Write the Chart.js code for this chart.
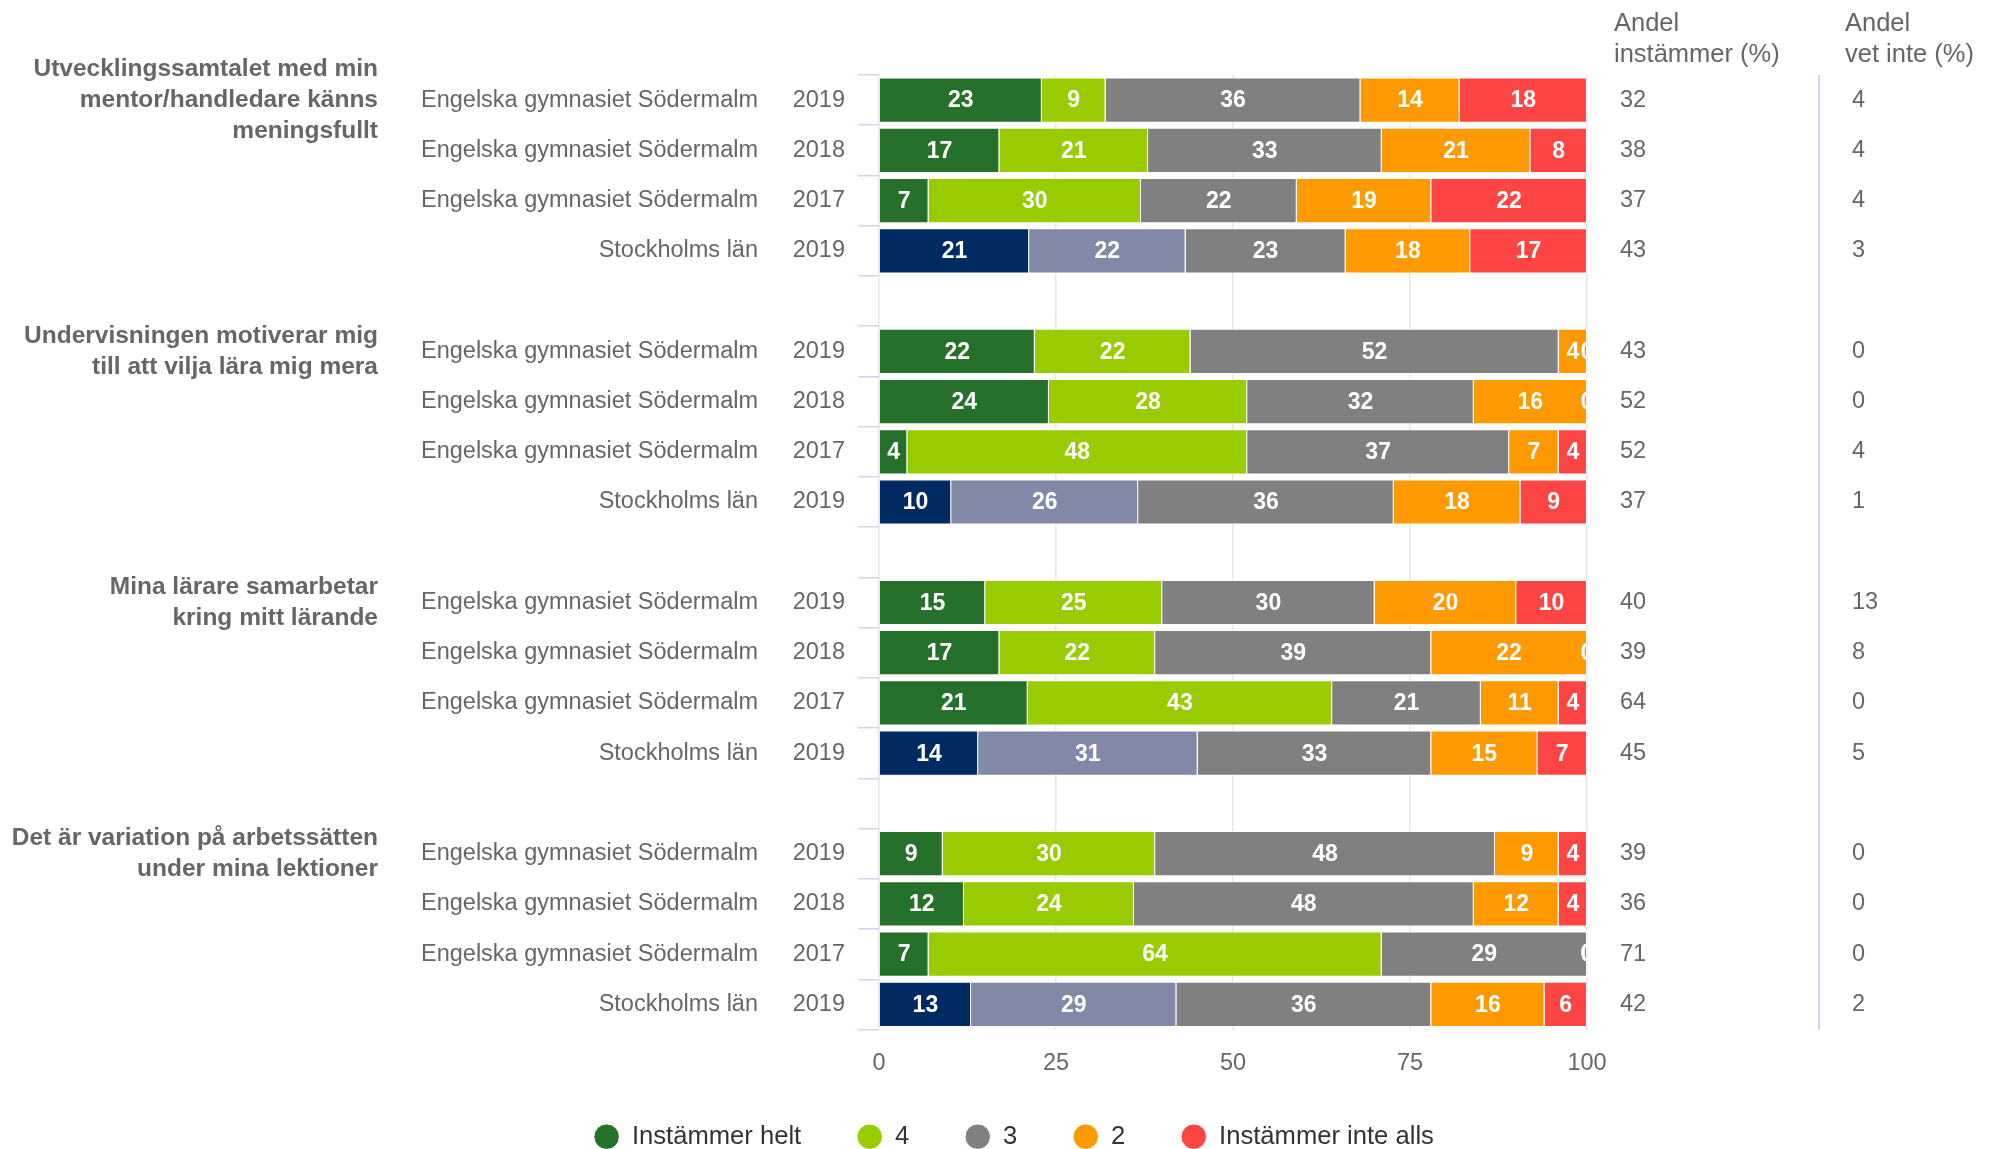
<!DOCTYPE html>
<html>
<head>
<meta charset="utf-8">
<script src="https://cdn.jsdelivr.net/npm/chart.js@4.4.0/dist/chart.umd.min.js"></script>
<style>
  html, body { margin: 0; padding: 0; background: #fff; overflow: hidden; }
  #wrap { width: 1994px; height: 1149px; }
</style>
</head>
<body>
<div id="wrap"><canvas id="chart"></canvas></div>
<script>
const FONT = '"Liberation Sans", Arial, Helvetica, sans-serif';

// question titles, each placed on the first row of its block
const questions = [
  ['Utvecklingssamtalet med min', 'mentor/handledare känns', 'meningsfullt'],
  ['Undervisningen motiverar mig', 'till att vilja lära mig mera'],
  ['Mina lärare samarbetar', 'kring mitt lärande'],
  ['Det är variation på arbetssätten', 'under mina lektioner']
];
const questionRows = [0, 5, 10, 15];

// one entry per row, '' / null = spacer row between the blocks
const units = [
  'Engelska gymnasiet Södermalm', 'Engelska gymnasiet Södermalm', 'Engelska gymnasiet Södermalm', 'Stockholms län', '',
  'Engelska gymnasiet Södermalm', 'Engelska gymnasiet Södermalm', 'Engelska gymnasiet Södermalm', 'Stockholms län', '',
  'Engelska gymnasiet Södermalm', 'Engelska gymnasiet Södermalm', 'Engelska gymnasiet Södermalm', 'Stockholms län', '',
  'Engelska gymnasiet Södermalm', 'Engelska gymnasiet Södermalm', 'Engelska gymnasiet Södermalm', 'Stockholms län'
];
const years = [
  '2019', '2018', '2017', '2019', '',
  '2019', '2018', '2017', '2019', '',
  '2019', '2018', '2017', '2019', '',
  '2019', '2018', '2017', '2019'
];

const instammerHelt = [23, 17, 7, 21.2, null, 22, 24, 4, 10.2, null, 15, 17, 21, 14, null, 9, 12, 7, 13];
const svar4         = [9, 21, 30, 22.1, null, 22, 28, 48, 26.4, null, 25, 22, 43, 31, null, 30, 24, 64, 29];
const svar3         = [36, 33, 22, 22.6, null, 52, 32, 37, 36.1, null, 30, 39, 21, 33, null, 48, 48, 29, 36];
const svar2         = [14, 21, 19, 17.6, null, 4, 16, 7, 17.9, null, 20, 22, 11, 15, null, 9, 12, 0, 16];
const instammerInte = [18, 8, 22, 16.5, null, 0, 0, 4, 9.4, null, 10, 0, 4, 7, null, 4, 4, 0, 6];

const andelInstammer = [32, 38, 37, 43, null, 43, 52, 52, 37, null, 40, 39, 64, 45, null, 39, 36, 71, 42];
const andelVetInte   = [4, 4, 4, 3, null, 0, 0, 4, 1, null, 13, 8, 0, 5, null, 0, 0, 0, 2];

const xTicks = [0, 25, 50, 75, 100];

const isRegion = units.map(u => u === 'Stockholms län');
const labels = units.map((u, i) => (u + ' ' + years[i]).trim());

// white numbers inside the bar segments
const barLabels = {
  id: 'barLabels',
  afterDatasetsDraw(chart) {
    const { ctx, chartArea } = chart;
    ctx.save();
    ctx.beginPath();
    ctx.rect(chartArea.left, chartArea.top, chartArea.right - chartArea.left, chartArea.bottom - chartArea.top);
    ctx.clip();
    ctx.font = 'bold 23px ' + FONT;
    ctx.fillStyle = '#ffffff';
    ctx.textAlign = 'center';
    ctx.textBaseline = 'middle';
    chart.data.datasets.forEach((ds, di) => {
      chart.getDatasetMeta(di).data.forEach((bar, i) => {
        const v = ds.data[i];
        if (v === null || v === undefined) return;
        ctx.fillText(String(Math.round(v)), (bar.x + bar.base) / 2, bar.y + 1);
      });
    });
    ctx.restore();
  }
};

// row captions on the left, share columns on the right
const sideText = {
  id: 'sideText',
  afterDraw(chart) {
    const { ctx, chartArea, scales } = chart;
    const y = scales.y;
    ctx.save();
    ctx.textBaseline = 'middle';
    ctx.fillStyle = '#666666';

    ctx.font = 'bold 24.5px ' + FONT;
    ctx.textAlign = 'right';
    questionRows.forEach((row, q) => {
      const lines = questions[q];
      const cy = y.getPixelForValue(row);
      lines.forEach((t, k) => ctx.fillText(t, 378, cy + (k - (lines.length - 1) / 2) * 31));
    });

    ctx.font = '23.5px ' + FONT;
    units.forEach((u, i) => {
      if (!u) return;
      const cy = y.getPixelForValue(i);
      ctx.textAlign = 'right';
      ctx.fillText(u, 758, cy);
      ctx.fillText(years[i], 845, cy);
      ctx.textAlign = 'left';
      ctx.fillText(String(andelInstammer[i]), 1620, cy);
      ctx.fillText(String(andelVetInte[i]), 1852, cy);
    });

    ctx.font = '25.5px ' + FONT;
    ctx.textAlign = 'left';
    ctx.fillText('Andel', 1614, 24);
    ctx.fillText('instämmer (%)', 1614, 55);
    ctx.fillText('Andel', 1845, 24);
    ctx.fillText('vet inte (%)', 1845, 55);

    ctx.strokeStyle = '#ccd6eb';
    ctx.lineWidth = 2;
    ctx.beginPath();
    ctx.moveTo(1819, chartArea.top);
    ctx.lineTo(1819, chartArea.bottom);
    ctx.stroke();
    ctx.restore();
  }
};

new Chart(document.getElementById('chart'), {
  type: 'bar',
  data: {
    labels: labels,
    datasets: [
      {
        label: 'Instämmer helt',
        data: instammerHelt,
        backgroundColor: isRegion.map(r => r ? '#002b62' : '#25712b')
      },
      {
        label: '4',
        data: svar4,
        backgroundColor: isRegion.map(r => r ? '#8189a6' : '#99cc00')
      },
      { label: '3', data: svar3, backgroundColor: '#808080' },
      { label: '2', data: svar2, backgroundColor: '#ff9900' },
      { label: 'Instämmer inte alls', data: instammerInte, backgroundColor: '#ff4444' }
    ].map(ds => Object.assign(ds, {
      yAxisID: 'y',
      borderColor: '#ffffff',
      borderWidth: 1,
      barPercentage: 0.9,
      categoryPercentage: 1
    }))
  },
  options: {
    indexAxis: 'y',
    responsive: true,
    maintainAspectRatio: false,
    animation: false,
    layout: { padding: { left: 34, right: 0, top: 75, bottom: -10.5 } },
    scales: {
      x: {
        stacked: true,
        min: 0,
        max: 100,
        afterBuildTicks(s) { s.ticks = xTicks.map(v => ({ value: v })); },
        // mirrored with a negative padding so the labels sit below the axis without being clipped
        ticks: { mirror: true, padding: -48, font: { size: 23.5, family: FONT }, color: '#666666' },
        grid: { color: '#e6e6e6', lineWidth: 1.5, drawTicks: false },
        border: { display: false },
        afterFit(s) { s.height = 38.4; }
      },
      y: {
        stacked: true,
        offset: true,
        grid: { offset: true, drawOnChartArea: false, drawTicks: true, tickLength: 21, color: '#ccd6eb', lineWidth: 1.5 },
        border: { display: false },
        ticks: { display: false },
        afterFit(s) { s.width = 845; }
      },
      y2: {
        type: 'category',
        position: 'right',
        grid: { display: false },
        border: { display: false },
        ticks: { display: false },
        afterFit(s) { s.width = 407; }
      }
    },
    plugins: {
      legend: {
        position: 'bottom',
        labels: {
          usePointStyle: true,
          pointStyle: 'circle',
          boxWidth: 25,
          boxHeight: 18,
          padding: 56,
          color: '#333333',
          font: { size: 25.6, family: FONT }
        }
      },
      tooltip: { enabled: false }
    }
  },
  plugins: [barLabels, sideText]
});
</script>
</body>
</html>
